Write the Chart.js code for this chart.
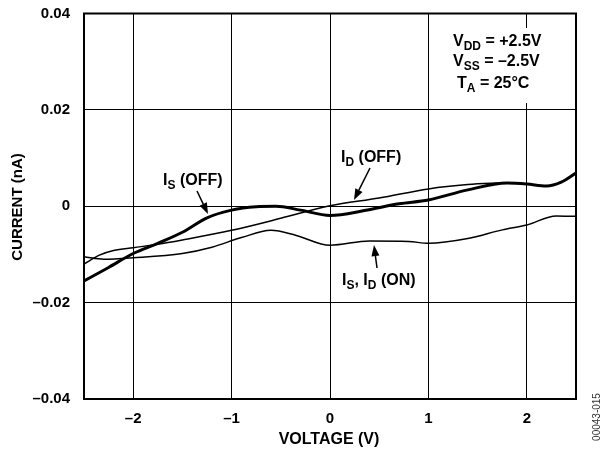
<!DOCTYPE html>
<html>
<head>
<meta charset="utf-8">
<script src="https://cdn.jsdelivr.net/npm/chart.js@4"></script>
<style>
  html, body { margin: 0; padding: 0; background: #fff; }
  #chart { display: block; }
</style>
</head>
<body>
<canvas id="chart" width="608" height="452"></canvas>
<script>
// 눈금
const xTicks = [-2, -1, 0, 1, 2];
const yTicks = [-0.04, -0.02, 0, 0.02, 0.04];
const xTickLabels = ['–2', '–1', '0', '1', '2'];
const yTickLabels = ['–0.04', '–0.02', '0', '0.02', '0.04'];

// I_S (OFF) - 굵은 선
const isOffV = [-2.5, -2.25, -2.0, -1.75, -1.5, -1.25, -1.0, -0.75, -0.55, -0.3, 0.0, 0.35, 0.7, 1.0, 1.4, 1.8, 2.0, 2.2, 2.35, 2.5];
const isOffI = [-0.0155, -0.0127, -0.0098, -0.0077, -0.0054, -0.0024, -0.0008, -0.0001, 0.0, -0.0008, -0.0019, -0.0009, 0.0005, 0.0013, 0.0034, 0.0048, 0.0046, 0.0042, 0.0050, 0.0069];

// I_D (OFF) - 얇은 선
const idOffV = [-2.5, -2.35, -2.2, -2.0, -1.75, -1.5, -1.0, -0.5, 0.0, 0.5, 1.0, 1.4, 1.7, 1.85];
const idOffI = [-0.0120, -0.0102, -0.0092, -0.0086, -0.0079, -0.0070, -0.0050, -0.0025, 0.0001, 0.0017, 0.0036, 0.0045, 0.0048, 0.0049];

// I_S, I_D (ON) - 얇은 선
const onV = [-2.5, -2.3, -2.0, -1.5, -1.2, -0.9, -0.6, -0.35, 0.0, 0.4, 0.8, 1.0, 1.4, 1.75, 2.0, 2.3, 2.5];
const onI = [-0.0105, -0.0110, -0.0107, -0.0098, -0.0085, -0.0065, -0.0050, -0.0060, -0.0081, -0.0072, -0.0073, -0.0077, -0.0067, -0.0049, -0.0039, -0.0020, -0.0021];

const FONT = '"Liberation Sans", Arial, sans-serif';

function toPoints(xs, ys) {
  return xs.map((x, i) => ({ x: x, y: ys[i] }));
}

// 아래첨자 포함 텍스트 그리기: parts = [[text, isSub], ...]
function drawRich(ctx, x, y, parts, size) {
  let cx = x;
  parts.forEach(([t, sub]) => {
    const s = sub ? Math.round(size * 0.75) : size;
    ctx.font = 'bold ' + s + 'px ' + FONT;
    ctx.fillText(t, cx, sub ? y + 4 : y);
    cx += ctx.measureText(t).width;
  });
}

function drawArrow(ctx, x1, y1, x2, y2) {
  const ang = Math.atan2(y2 - y1, x2 - x1);
  const len = 11, half = 4;
  const bx = x2 - len * Math.cos(ang), by = y2 - len * Math.sin(ang);
  ctx.beginPath();
  ctx.moveTo(x1, y1);
  ctx.lineTo(bx, by);
  ctx.lineWidth = 1.5;
  ctx.stroke();
  ctx.beginPath();
  ctx.moveTo(x2, y2);
  ctx.lineTo(bx + half * Math.sin(ang), by - half * Math.cos(ang));
  ctx.lineTo(bx - half * Math.sin(ang), by + half * Math.cos(ang));
  ctx.closePath();
  ctx.fill();
}

const decor = {
  id: 'decor',
  beforeDatasetsDraw(chart) {
    const ctx = chart.ctx;
    // 조건 표시 뒤 흰 박스
    ctx.save();
    ctx.fillStyle = '#fff';
    ctx.fillRect(448, 28, 126, 75);
    ctx.restore();
  },
  afterDraw(chart) {
    const ctx = chart.ctx;
    const a = chart.chartArea;
    ctx.save();
    ctx.strokeStyle = '#000';
    ctx.fillStyle = '#000';
    ctx.lineWidth = 2;
    ctx.strokeRect(a.left, a.top, a.right - a.left, a.bottom - a.top);

    ctx.textBaseline = 'alphabetic';
    ctx.textAlign = 'left';
    drawRich(ctx, 453, 46, [['V', 0], ['DD', 1], [' = +2.5V', 0]], 16);
    drawRich(ctx, 453, 66, [['V', 0], ['SS', 1], [' = –2.5V', 0]], 16);
    drawRich(ctx, 457, 88, [['T', 0], ['A', 1], [' = 25°C', 0]], 16);

    drawRich(ctx, 163, 185, [['I', 0], ['S', 1], [' (OFF)', 0]], 16);
    drawArrow(ctx, 197, 191, 208, 214);
    drawRich(ctx, 341, 162, [['I', 0], ['D', 1], [' (OFF)', 0]], 16);
    drawArrow(ctx, 370, 168, 354, 200);
    drawRich(ctx, 342, 285, [['I', 0], ['S', 1], [', I', 0], ['D', 1], [' (ON)', 0]], 16);
    drawArrow(ctx, 377, 268, 374, 245);

    // 축 제목
    ctx.textAlign = 'center';
    ctx.textBaseline = 'middle';
    ctx.font = 'bold 16px ' + FONT;
    ctx.fillText('VOLTAGE (V)', 329, 440);
    ctx.save();
    ctx.font = 'bold 15px ' + FONT;
    ctx.translate(18, 207);
    ctx.rotate(-Math.PI / 2);
    ctx.fillText('CURRENT (nA)', 0, 0);
    ctx.restore();

    ctx.save();
    ctx.font = '10px ' + FONT;
    ctx.fillStyle = '#333';
    ctx.translate(597, 417);
    ctx.rotate(-Math.PI / 2);
    ctx.fillText('00043-015', 0, 0);
    ctx.restore();
    ctx.restore();
  }
};

new Chart(document.getElementById('chart'), {
  type: 'scatter',
  data: {
    datasets: [
      {
        label: 'I_S (OFF)',
        data: toPoints(isOffV, isOffI),
        borderColor: '#000',
        borderWidth: 3,
      },
      {
        label: 'I_D (OFF)',
        data: toPoints(idOffV, idOffI),
        borderColor: '#000',
        borderWidth: 1.5,
      },
      {
        label: 'I_S, I_D (ON)',
        data: toPoints(onV, onI),
        borderColor: '#000',
        borderWidth: 1.5,
      }
    ]
  },
  plugins: [decor],
  options: {
    responsive: false,
    animation: false,
    devicePixelRatio: 1,
    layout: { padding: { left: 0, right: 32, top: 13.5, bottom: 0 } },
    elements: {
      point: { radius: 0 },
      line: { tension: 0, cubicInterpolationMode: 'monotone', fill: false }
    },
    datasets: { scatter: { showLine: true } },
    plugins: {
      legend: { display: false },
      tooltip: { enabled: false }
    },
    scales: {
      x: {
        type: 'linear',
        min: -2.5,
        max: 2.5,
        afterFit(scale) {
          scale.height = 53;
          scale.paddingLeft = 0;
          scale.paddingRight = 0;
        },
        afterBuildTicks(scale) { scale.ticks = xTicks.map(v => ({ value: v })); },
        grid: { color: '#000', lineWidth: 1, drawTicks: false },
        border: { display: false },
        ticks: {
          padding: 11,
          color: '#000',
          font: { family: FONT, size: 15, weight: 'bold' },
          callback: (v) => xTickLabels[xTicks.indexOf(v)]
        }
      },
      y: {
        type: 'linear',
        min: -0.04,
        max: 0.04,
        afterFit(scale) {
          scale.width = 84;
          scale.paddingTop = 0;
          scale.paddingBottom = 0;
        },
        afterBuildTicks(scale) { scale.ticks = yTicks.map(v => ({ value: v })); },
        grid: { color: '#000', lineWidth: 1, drawTicks: false },
        border: { display: false },
        ticks: {
          padding: 14,
          color: '#000',
          font: { family: FONT, size: 15, weight: 'bold' },
          callback: (v) => yTickLabels[yTicks.indexOf(v)]
        }
      }
    }
  }
});
</script>
</body>
</html>
